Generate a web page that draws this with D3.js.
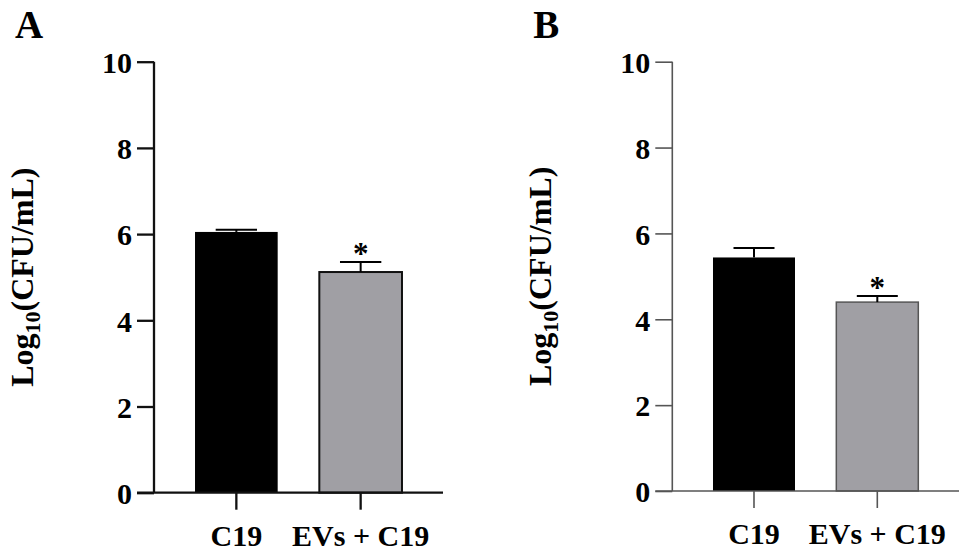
<!DOCTYPE html>
<html>
<head>
<meta charset="utf-8">
<script src="https://cdn.jsdelivr.net/npm/d3@7"></script>
<style>
  html, body { margin: 0; padding: 0; background: #fff; }
  svg { display: block; }
  text { font-family: "Liberation Serif", "Times New Roman", serif; font-weight: bold; fill: #000; }
</style>
</head>
<body>
<svg id="chart" width="969" height="555"></svg>
<script>
// ---- data ----
const categories = ["C19", "EVs + C19"];
const panelLabels = ["A", "B"];
const meansA = [6.05, 5.12];
const semA   = [0.05, 0.23];
const meansB = [5.44, 4.40];
const semB   = [0.22, 0.14];
const sigA = ["", "*"];
const sigB = ["", "*"];
const yTicks = [0, 2, 4, 6, 8, 10];
const yDomain = [0, 10];

const barColors = ["#000000", "#a09fa4"];

const panels = [
  { label: panelLabels[0], means: meansA, sem: semA, sig: sigA,
    left: 154, right: 443, top: 61.7, bottom: 492.7,
    axisColor: "#111", axisWidth: 2.3, outline: "#111", outlineWidth: 2 },
  { label: panelLabels[1], means: meansB, sem: semB, sig: sigB,
    left: 672.3, right: 959, top: 61.7, bottom: 491,
    axisColor: "#555", axisWidth: 1.6, outline: "#555", outlineWidth: 1.5 }
];

const svg = d3.select("#chart");
const tickLen = 17;

panels.forEach(p => {
  const g = svg.append("g");
  const y = d3.scaleLinear().domain(yDomain).range([p.bottom, p.top]);
  const x = d3.scaleBand().domain(categories).range([p.left, p.right])
    .paddingInner(0.335).paddingOuter(0.33);

  // bars
  g.selectAll("rect.bar").data(categories).enter().append("rect")
    .attr("x", d => x(d))
    .attr("y", (d, i) => y(p.means[i]))
    .attr("width", x.bandwidth())
    .attr("height", (d, i) => y(0) - y(p.means[i]))
    .attr("fill", (d, i) => barColors[i])
    .attr("stroke", (d, i) => i === 0 ? "none" : p.outline)
    .attr("stroke-width", p.outlineWidth);

  // error bars
  const capW = x.bandwidth() / 2;
  categories.forEach((c, i) => {
    const cx = x(c) + x.bandwidth() / 2;
    const yTop = y(p.means[i] + p.sem[i]);
    g.append("line").attr("x1", cx).attr("x2", cx)
      .attr("y1", y(p.means[i])).attr("y2", yTop)
      .attr("stroke", "#000").attr("stroke-width", 2);
    g.append("line").attr("x1", cx - capW / 2).attr("x2", cx + capW / 2)
      .attr("y1", yTop).attr("y2", yTop)
      .attr("stroke", "#000").attr("stroke-width", 2);
    if (p.sig[i]) {
      g.append("text").attr("x", cx).attr("y", yTop + 2)
        .attr("text-anchor", "middle").attr("font-size", 31)
        .text(p.sig[i]);
    }
  });

  // y axis
  const yAxis = d3.axisLeft(y).tickValues(yTicks).tickSize(tickLen).tickPadding(5)
    .tickFormat(d3.format("d"));
  const ya = g.append("g").attr("transform", `translate(${p.left},0)`).call(yAxis);
  ya.select(".domain").attr("stroke", p.axisColor).attr("stroke-width", p.axisWidth)
    .attr("d", `M0,${y(10)}V${y(0)}`);
  ya.selectAll(".tick line").attr("stroke", p.axisColor).attr("stroke-width", p.axisWidth);
  ya.selectAll(".tick text").attr("font-size", 30)
    .attr("font-family", "Liberation Serif, serif").attr("font-weight", "bold")
    .attr("fill", "#000").attr("dy", "0.36em");

  // x axis
  const xAxis = d3.axisBottom(x).tickSize(tickLen).tickPadding(15);
  const xa = g.append("g").attr("transform", `translate(0,${y(0)})`).call(xAxis);
  xa.select(".domain").attr("stroke", p.axisColor).attr("stroke-width", p.axisWidth)
    .attr("d", `M${p.left - tickLen},0H${p.right}`);
  xa.selectAll(".tick line").attr("stroke", p.axisColor).attr("stroke-width", p.axisWidth);
  xa.selectAll(".tick text").attr("font-size", 30)
    .attr("font-family", "Liberation Serif, serif").attr("font-weight", "bold")
    .attr("fill", "#000").attr("dy", "0.71em");

  // y label
  const midY = (y(0) + y(10)) / 2;
  const lbl = g.append("text")
    .attr("transform", `translate(${p.left - 121},${midY}) rotate(-90)`)
    .attr("text-anchor", "middle").attr("font-size", 32);
  lbl.append("tspan").text("Log");
  lbl.append("tspan").attr("font-size", 22).attr("dy", 7).text("10");
  lbl.append("tspan").attr("dy", -7).text("(CFU/mL)");

  // panel letter
  g.append("text").attr("x", p.left - 139).attr("y", 38)
    .attr("font-size", 39).text(p.label);
});
</script>
</body>
</html>
